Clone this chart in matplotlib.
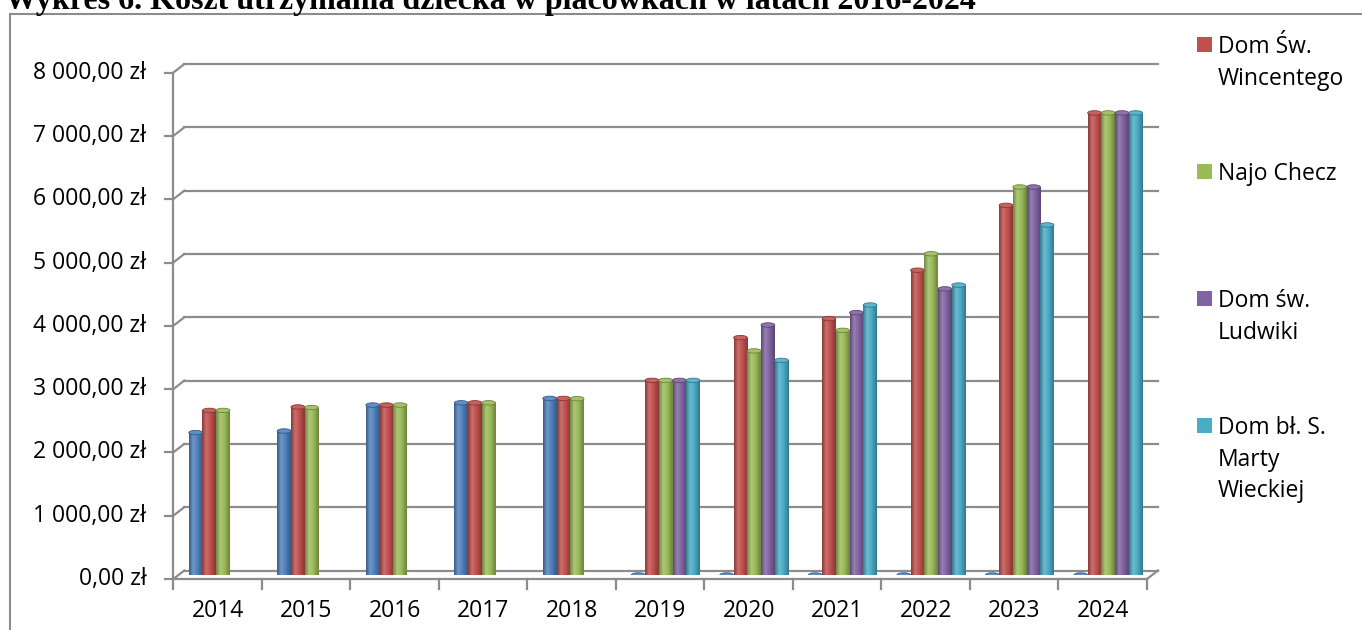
import numpy as np
import matplotlib
matplotlib.use("Agg")
import matplotlib.pyplot as plt
from matplotlib import transforms
from matplotlib.patches import Ellipse, Rectangle
from matplotlib.lines import Line2D
from matplotlib.colors import to_rgb, LinearSegmentedColormap

# dane
years = ['2014', '2015', '2016', '2017', '2018', '2019', '2020', '2021', '2022', '2023', '2024']
blue_vals = [2250, 2275, 2685, 2720, 2790, 0, 0, 0, 0, 0, 0]
wincentego = [2600, 2655, 2685, 2720, 2790, 3075, 3750, 4050, 4815, 5840, 7300]
najo_checz = [2600, 2645, 2685, 2720, 2785, 3075, 3540, 3865, 5075, 6130, 7300]
ludwiki = [None, None, None, None, None, 3075, 3950, 4145, 4520, 6130, 7300]
marty = [None, None, None, None, None, 3075, 3390, 4265, 4580, 5530, 7300]

series = [blue_vals, wincentego, najo_checz, ludwiki, marty]
colors = ['#4f81bd', '#c0504d', '#9bbb59', '#8064a2', '#4bacc6']
legend_labels = [None, 'Dom Św.\nWincentego', 'Najo Checz', 'Dom św.\nLudwiki',
                 'Dom bł. S.\nMarty\nWieckiej']
y_ticks = list(range(0, 8001, 1000))

title = 'Wykres 6. Koszt utrzymania dziecka w placówkach w latach 2016-2024'

W, H = 1362, 630
grid_c = '#8c8c8c'
font = ['Open Sans', 'DejaVu Sans']
fs = 16.5


def shade(c, f):
    c = np.array(to_rgb(c))
    if f < 1:
        return c * f
    return c + (1 - c) * (f - 1)


def fmt_pln(v):
    s = f"{v:,.2f}".replace(',', ' ').replace('.', ',')
    return s + ' zł'


fig = plt.figure(figsize=(W / 100, H / 100), dpi=100)
ax = fig.add_axes([178.8 / W, 55 / H, 973.7 / W, 506.4 / H])
ax.set_xlim(-0.5, 10.5)
ax.set_ylim(0, 8000)
ax.axis('off')

# przesunięcia "3D": tylna ściana i przednia krawędź
back = ax.transData + transforms.ScaledTranslation(0.055, 0.045, fig.dpi_scale_trans)
front = ax.transData + transforms.ScaledTranslation(-0.055, -0.04, fig.dpi_scale_trans)
ident = transforms.IdentityTransform()


def px_line(p0, p1):
    fig.add_artist(Line2D([p0[0], p1[0]], [p0[1], p1[1]], transform=ident,
                          color=grid_c, lw=1.6, zorder=0))


# linie siatki na tylnej ścianie
for v in y_ticks:
    ax.plot([-0.5, 10.5], [v, v], transform=back, color=grid_c, lw=1.6, zorder=0, clip_on=False)

# lewa oś (przód) + skośne łączniki + ticki
ax.plot([-0.5, -0.5], [0, 8000], transform=front, color=grid_c, lw=1.6, zorder=0, clip_on=False)
for v in y_ticks:
    pf = front.transform((-0.5, v))
    pb = back.transform((-0.5, v))
    px_line(pf, pb)
    px_line(pf, (pf[0] - 8, pf[1]))
    ax.text(-0.5, v, fmt_pln(v), transform=front + transforms.ScaledTranslation(-0.27, 0, fig.dpi_scale_trans),
            ha='right', va='center', fontsize=fs, family=font)

# podłoga
ax.plot([-0.5, 10.5], [0, 0], transform=front, color=grid_c, lw=1.6, zorder=0, clip_on=False)
px_line(front.transform((10.5, 0)), back.transform((10.5, 0)))
for b in np.arange(-0.5, 11, 1.0):
    p = front.transform((b, 0))
    px_line(p, (p[0], p[1] - 10))
for i, yr in enumerate(years):
    ax.text(i, 0, yr, transform=front + transforms.ScaledTranslation(0, -0.32, fig.dpi_scale_trans),
            ha='center', va='center', fontsize=fs, family=font)

# słupki walcowe
bw = 0.155
cap_h = 70
grad = np.linspace(0, 1, 64).reshape(1, -1)
for k, (vals, c) in enumerate(zip(series, colors)):
    cmap = LinearSegmentedColormap.from_list('cyl%d' % k, [
        (0.0, shade(c, 0.72)), (0.3, shade(c, 1.18)), (0.6, to_rgb(c)), (1.0, shade(c, 0.7))])
    for i, v in enumerate(vals):
        if v is None:
            continue
        xc = i + (k - 2) * bw
        if v > 0:
            bar = ax.bar(xc, v, width=bw, color=c, linewidth=0, zorder=2)[0]
            im = ax.imshow(grad, cmap=cmap, extent=(xc - bw / 2, xc + bw / 2, 0, v),
                           aspect='auto', origin='lower', zorder=2, interpolation='bilinear')
            im.set_clip_path(bar)
            ax.add_patch(Ellipse((xc, 0), bw, cap_h, facecolor=shade(c, 0.85), lw=0, zorder=1.9))
        ax.add_patch(Ellipse((xc, v), bw, cap_h, facecolor=shade(c, 1.1),
                             edgecolor=shade(c, 0.7), lw=0.6, zorder=3))

ax.set_xlim(-0.5, 10.5)
ax.set_ylim(0, 8000)

# legenda
entry_y = 44.7
for lab, c in zip(legend_labels, colors):
    if lab is None:
        continue
    fig.add_artist(Rectangle((1197 / W, 1 - (entry_y + 7.5) / H), 15 / W, 15 / H,
                             transform=fig.transFigure, facecolor=c, edgecolor='none'))
    for j, line in enumerate(lab.split('\n')):
        fig.text(1218 / W, 1 - (entry_y + 8.5 + j * 31.5) / H, line, ha='left', va='baseline',
                 fontsize=fs, family=font)
    entry_y += 127

# ramka i tytuł (ucięty u góry, jak w oryginale)
fig.add_artist(Line2D([10 / W, 10 / W], [0, 1 - 14 / H], transform=fig.transFigure, color=grid_c, lw=1.5))
fig.add_artist(Line2D([10 / W, 1], [1 - 14 / H, 1 - 14 / H], transform=fig.transFigure, color=grid_c, lw=1.5))
fig.text(5 / W, 1 - 9.5 / H, title, ha='left', va='baseline', fontsize=23,
         family=['Liberation Serif', 'DejaVu Serif'], weight='bold')

fig.savefig('out.png', dpi=100)
